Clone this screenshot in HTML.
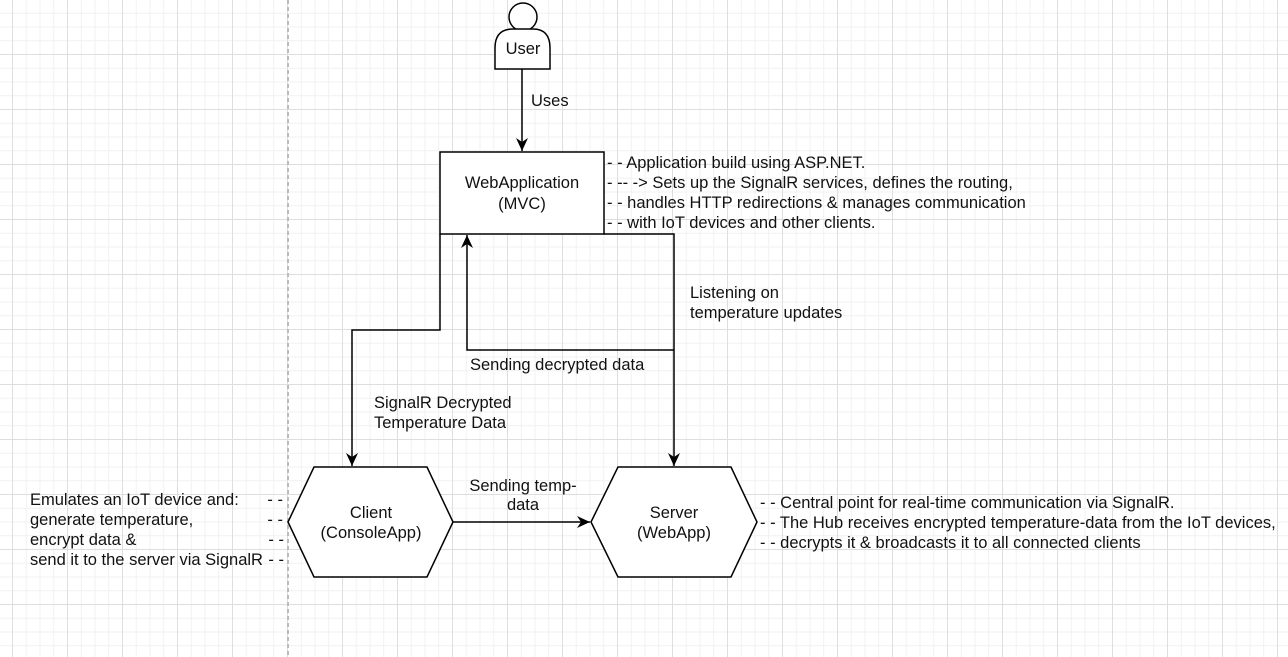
<!DOCTYPE html>
<html><head><meta charset="utf-8"><style>
html,body{margin:0;padding:0;background:#fff}
body{width:1288px;height:657px;overflow:hidden;position:relative;font-family:"Liberation Sans",Arial,sans-serif}
.grid{position:absolute;inset:0;
background-image:
linear-gradient(to right,#dedede 1px,transparent 1px),
linear-gradient(to bottom,#dedede 1px,transparent 1px),
linear-gradient(to right,#f1f1f1 1px,transparent 1px),
linear-gradient(to bottom,#f1f1f1 1px,transparent 1px);
background-size:55px 55px,55px 55px,13.75px 13.75px,13.75px 13.75px;
background-position:12px -1px,12px -1px,12px -1px,12px -1px}
svg{position:absolute;left:0;top:0}
text{font-family:"Liberation Sans",Arial,sans-serif;font-size:16.5px;fill:#111}
</style></head><body>
<div class="grid"></div>
<svg width="1288" height="657" viewBox="0 0 1288 657">
<defs><marker id="a" markerWidth="14" markerHeight="14" refX="13" refY="6" orient="auto" markerUnits="userSpaceOnUse"><path d="M0,0 L13,6 L0,12 L4,6 z" fill="#000"/></marker></defs>
<line x1="288" y1="0" x2="288" y2="657" stroke="#bbb" stroke-width="2" stroke-dasharray="4,3"/>
<circle cx="523" cy="17" r="14" fill="#fff" stroke="#000" stroke-width="1.5"/>
<path d="M495,69 L495,48 Q495,29 513,29 L533,29 Q550,29 550,48 L550,69 Z" fill="#fff" stroke="#000" stroke-width="1.5"/>
<text x="523" y="54" text-anchor="middle">User</text>
<line x1="522" y1="69" x2="522" y2="151" stroke="#000" stroke-width="1.5" marker-end="url(#a)"/>
<text x="531" y="106">Uses</text>
<rect x="440" y="152" width="164" height="82" fill="#fff" stroke="#000" stroke-width="1.5"/>
<text x="522" y="188" text-anchor="middle">WebApplication</text>
<text x="522" y="209" text-anchor="middle">(MVC)</text>
<text x="607" y="168">- - Application build using ASP.NET.</text>
<text x="607" y="188">- -- -&gt; Sets up the SignalR services, defines the routing,</text>
<text x="607" y="208">- - handles HTTP redirections &amp; manages communication</text>
<text x="607" y="228">- - with IoT devices and other clients.</text>
<polyline points="440,234 440,330 352,330 352,466" fill="none" stroke="#000" stroke-width="1.5" marker-end="url(#a)"/>
<polyline points="604,234 674,234 674,466" fill="none" stroke="#000" stroke-width="1.5" marker-end="url(#a)"/>
<polyline points="674,350 467,350 467,235" fill="none" stroke="#000" stroke-width="1.5" marker-end="url(#a)"/>
<text x="690" y="298">Listening on</text>
<text x="690" y="318">temperature updates</text>
<text x="470" y="370">Sending decrypted data</text>
<text x="374" y="408">SignalR Decrypted</text>
<text x="374" y="428">Temperature Data</text>
<polygon points="288,522 314,467 427,467 453,522 427,577 314,577" fill="#fff" stroke="#000" stroke-width="1.5"/>
<text x="371" y="518" text-anchor="middle">Client</text>
<text x="371" y="538" text-anchor="middle">(ConsoleApp)</text>
<polygon points="591,522 618,467 731,467 757,522 731,577 618,577" fill="#fff" stroke="#000" stroke-width="1.5"/>
<text x="674" y="518" text-anchor="middle">Server</text>
<text x="674" y="538" text-anchor="middle">(WebApp)</text>
<line x1="453" y1="522" x2="590" y2="522" stroke="#000" stroke-width="1.5" marker-end="url(#a)"/>
<text x="523" y="491" text-anchor="middle">Sending temp-</text>
<text x="523" y="510" text-anchor="middle">data</text>
<text x="30" y="505">Emulates an IoT device and:</text>
<text x="30" y="525">generate temperature,</text>
<text x="30" y="545">encrypt data &amp;</text>
<text x="30" y="565">send it to the server via SignalR</text>
<text x="283" y="505" text-anchor="end">- -</text>
<text x="283" y="525" text-anchor="end">- -</text>
<text x="284" y="545" text-anchor="end">- -</text>
<text x="284" y="565" text-anchor="end">- -</text>
<text x="760" y="508">- - Central point for real-time communication via SignalR.</text>
<text x="760" y="528">- - The Hub receives encrypted temperature-data from the IoT devices,</text>
<text x="760" y="548">- - decrypts it &amp; broadcasts it to all connected clients</text>
</svg>
</body></html>
